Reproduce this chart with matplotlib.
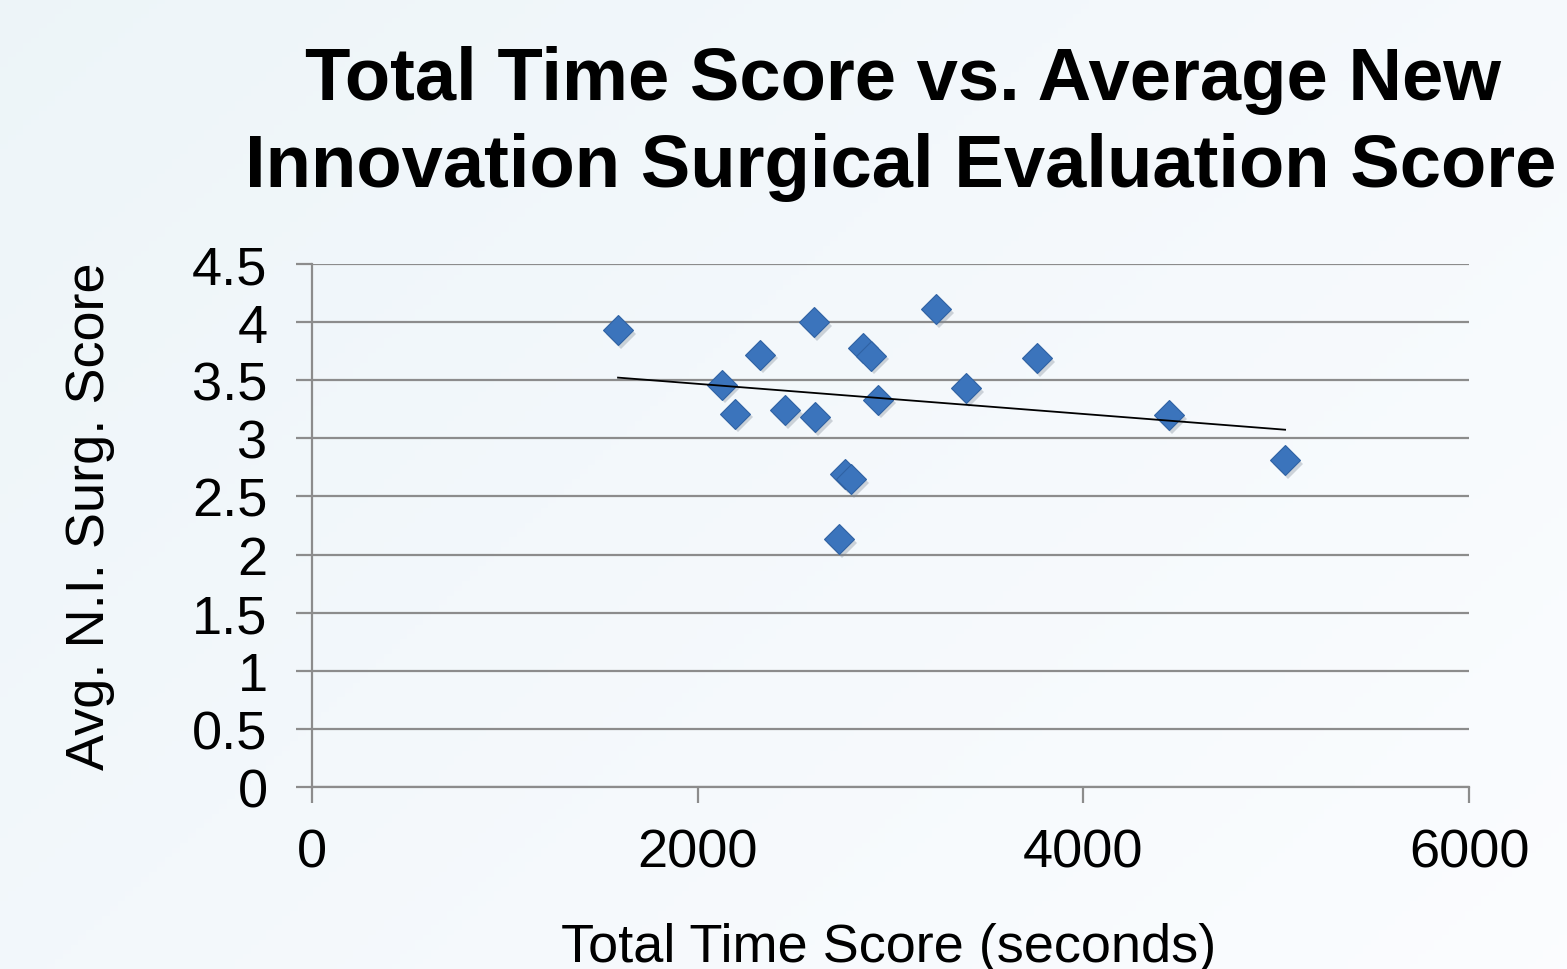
import numpy as np
import matplotlib.pyplot as plt

# data
time_score = [1587, 2126, 2194, 2323, 2453, 2603, 2608, 2733, 2764, 2795,
              2857, 2899, 2935, 3236, 3392, 3760, 4444, 5046]
surg_score = [3.93, 3.46, 3.21, 3.72, 3.24, 4.00, 3.18, 2.13, 2.69, 2.65,
              3.78, 3.71, 3.33, 4.11, 3.43, 3.69, 3.20, 2.81]
x_ticks = [0, 2000, 4000, 6000]
y_ticks = [0, 0.5, 1, 1.5, 2, 2.5, 3, 3.5, 4, 4.5]
y_labels = ['0', '0.5', '1', '1.5', '2', '2.5', '3', '3.5', '4', '4.5']

plt.rcParams['font.family'] = ['Liberation Sans', 'DejaVu Sans']

fig = plt.figure(figsize=(15.67, 9.70), dpi=100)

# soft background gradient
bg = fig.add_axes([0, 0, 1, 1], zorder=-10)
gx, gy = np.meshgrid(np.linspace(0, 1, 200), np.linspace(0, 1, 200))
g = 0.6 * gx + 0.4 * gy
c0 = np.array([0.93, 0.96, 0.975])
c1 = np.array([0.985, 0.99, 1.0])
img = c0[None, None, :] + (c1 - c0)[None, None, :] * g[:, :, None]
bg.imshow(img, extent=[0, 1, 0, 1], aspect='auto', origin='upper')
bg.axis('off')

ax = fig.add_axes([0.1991, 0.1876, 0.7384, 0.5392])
ax.set_facecolor('none')

x = np.array(time_score)
y = np.array(surg_score)

# marker shadow, then markers
ax.plot(x + 14, y - 0.03, 'D', ms=15.5, color='#7f8a96', alpha=0.35,
        markeredgewidth=0, zorder=2)
ax.plot(x, y, 'D', ms=15.5, color='#3b74bc', markeredgecolor='#2f62a3',
        markeredgewidth=0.8, zorder=3)

# linear trendline
k, b = np.polyfit(x, y, 1)
tx = np.array([x.min(), x.max()])
ax.plot(tx, k * tx + b, color='black', lw=1.3, zorder=4)

ax.set_xlim(0, 6000)
ax.set_ylim(0, 4.5)
ax.set_xticks(x_ticks)
ax.set_yticks(y_ticks)
ax.set_yticklabels(y_labels)
ax.grid(axis='y', color='#8c8c8c', lw=1.6)
ax.set_axisbelow(True)

for s in ['top', 'right']:
    ax.spines[s].set_visible(False)
for s in ['left', 'bottom']:
    ax.spines[s].set_color('#8c8c8c')
    ax.spines[s].set_linewidth(1.6)

ax.tick_params(axis='both', colors='#8c8c8c', width=1.6, length=11.5,
               labelsize=39, labelcolor='black')
ax.tick_params(axis='x', pad=17.5)
ax.tick_params(axis='y', pad=20.5)

# axis titles placed in figure coords
fig.text(889 / 1567, 1 - 962 / 970, 'Total Time Score (seconds)',
         ha='center', va='baseline', fontsize=39)
fig.text(90 / 1567, 1 - 516 / 970, 'Avg. N.I. Surg. Score',
         ha='center', va='center', rotation=90, fontsize=39)

# two-line bold title
fig.text(903 / 1567, 1 - 100 / 970, 'Total Time Score vs. Average New',
         ha='center', va='baseline', fontsize=53.5, fontweight='bold')
fig.text(901 / 1567, 1 - 187 / 970, 'Innovation Surgical Evaluation Score',
         ha='center', va='baseline', fontsize=53.5, fontweight='bold')

fig.savefig('out.png', dpi=100)
